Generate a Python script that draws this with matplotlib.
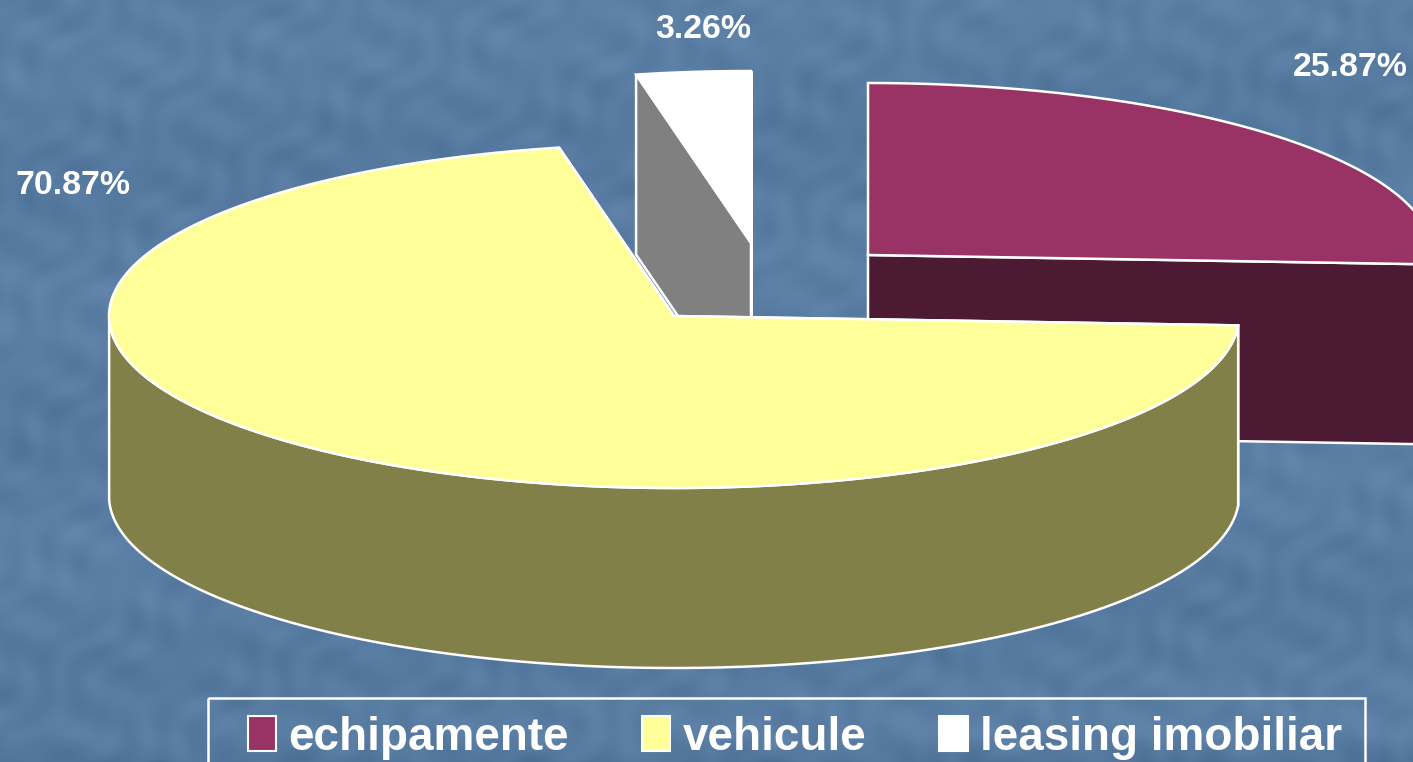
import numpy as np
import matplotlib
matplotlib.use("Agg")
import matplotlib.pyplot as plt
from matplotlib.patches import Polygon, Patch, Rectangle

categories = ["echipamente", "vehicule", "leasing imobiliar"]
shares = [25.87, 70.87, 3.26]
labels = ["25.87%", "70.87%", "3.26%"]
top_colors = ["#993366", "#FFFF99", "#FFFFFF"]
side_colors = ["#4D1A33", "#808048", "#808080"]

W, H = 1413, 762
RX, RY, DEPTH = 565, 172, 180
centers = {"echipamente": (868, 255), "vehicule": (674, 316), "leasing imobiliar": (751, 243)}
label_pos = {"echipamente": (1350, 67), "vehicule": (73, 186), "leasing imobiliar": (703, 29)}

plt.rcParams["font.family"] = ["Liberation Sans", "DejaVu Sans"]
fig = plt.figure(figsize=(W / 100, H / 100), dpi=100)
ax = fig.add_axes([0, 0, 1, 1])
ax.set_xlim(0, W)
ax.set_ylim(H, 0)
ax.axis("off")

# background: blue marbled slide texture (decoration only)
yy, xx = np.mgrid[0:H, 0:W]
u = xx + 0.6 * yy
v = yy - 0.5 * xx
tex = (0.7 * np.sin(u / 37.0) * np.sin(v / 9.0) + 0.5 * np.sin(u / 91.0 + v / 53.0)
       + 0.5 * np.sin(u / 7.0 + 2.3 * np.sin(v / 19.0)) * np.sin(xx / 67.0 + yy / 41.0))
base = np.array([0x59, 0x7C, 0xA3], float)
img = base[None, None, :] + tex[..., None] * np.array([6, 6, 6.0])
img[..., :] -= np.clip((yy[..., None] - 735) / 27.0, 0, 1) * 10
ax.imshow(np.clip(img, 0, 255).astype(np.uint8), extent=(0, W, H, 0), aspect="auto", zorder=0)


def pt(c, t):
    return c[0] + RX * np.cos(t), c[1] - RY * np.sin(t)


def wedge(ax, cat, t0, t1, top, side, z):
    c = centers[cat]
    ts = np.linspace(t0, t1, 200)  # t0 > t1, clockwise
    ex, ey = pt(c, ts)
    kw = dict(edgecolor="white", linewidth=1.8, joinstyle="miter")
    # cut faces
    for t in (t0, t1):
        px, py = pt(c, t)
        ax.add_patch(Polygon([c, (px, py), (px, py + DEPTH), (c[0], c[1] + DEPTH)],
                             facecolor=side, zorder=z, **kw))
    # outer wall, front half only
    s = np.sin(ts) <= 0
    if s.any():
        wx, wy = ex[s], ey[s]
        ax.add_patch(Polygon(np.r_[np.c_[wx, wy], np.c_[wx[::-1], wy[::-1] + DEPTH]],
                             facecolor=side, zorder=z + 0.1, **kw))
    ax.add_patch(Polygon(np.r_[[c], np.c_[ex, ey]], facecolor=top, zorder=z + 0.2, **kw))


start = np.pi / 2
order_z = {"echipamente": 2, "leasing imobiliar": 3, "vehicule": 4}
for cat, share, lab, top, side in zip(categories, shares, labels, top_colors, side_colors):
    sweep = 2 * np.pi * share / 100
    wedge(ax, cat, start, start - sweep, top, side, order_z[cat])
    start -= sweep
    lx, ly = label_pos[cat]
    ax.text(lx, ly, lab, color="white", fontsize=24.4, fontweight="bold",
            ha="center", va="center", zorder=6)

ax.add_patch(Rectangle((208, 698), 1157, 80, facecolor="none", edgecolor="white",
                       linewidth=1.8, zorder=6, clip_on=True))
handles = [Patch(facecolor=c, edgecolor="white", linewidth=1.5) for c in top_colors]
leg = ax.legend(handles, categories, loc="upper left", bbox_to_anchor=(234, 702),
                bbox_transform=ax.transData, ncol=3, frameon=False,
                prop={"size": 33, "weight": "bold"}, labelcolor="white",
                handlelength=0.62, handleheight=0.8, handletextpad=0.26,
                columnspacing=1.6, borderpad=0.3, borderaxespad=0)
leg.set_zorder(7)

fig.savefig("out.png", dpi=100)
